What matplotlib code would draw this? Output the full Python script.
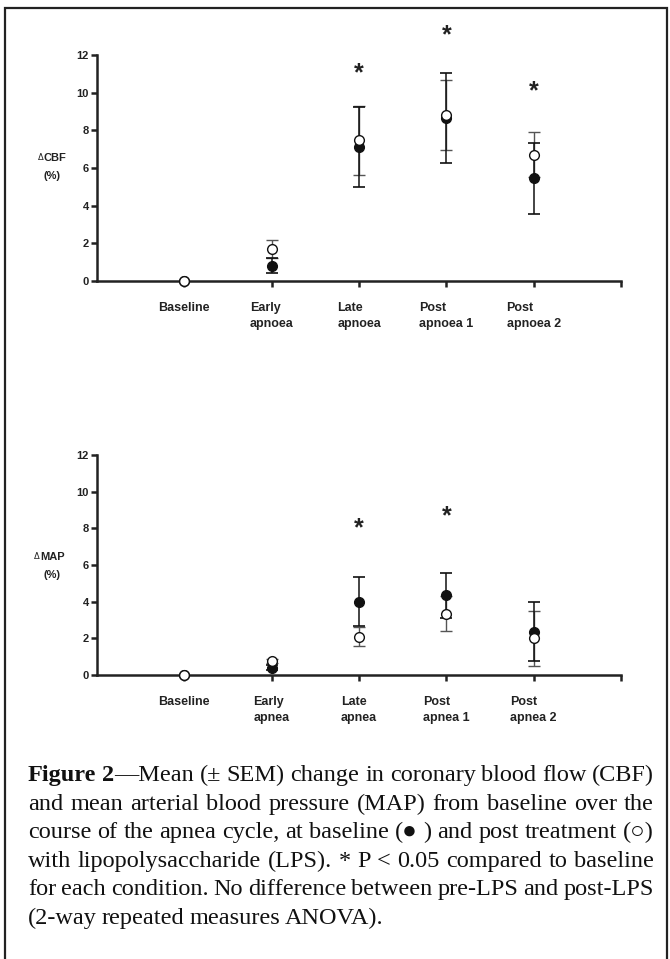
import matplotlib
matplotlib.use('Agg')
import matplotlib.pyplot as plt
from matplotlib.patches import Rectangle

plt.rcParams['font.family'] = ['Liberation Sans', 'DejaVu Sans']

# data
x_pos = [1, 2, 3, 4, 5]
cbf_labels = ['Baseline', 'Early\napnoea', 'Late\napnoea', 'Post\napnoea 1', 'Post\napnoea 2']
map_labels = ['Baseline', 'Early\napnea', 'Late\napnea', 'Post\napnea 1', 'Post\napnea 2']
y_ticks = [0, 2, 4, 6, 8, 10, 12]

# filled = baseline (pre-LPS), open = post LPS
cbf_pre = [0, 0.82, 7.1, 8.65, 5.45]
cbf_pre_err = [0, 0.42, 2.12, 2.4, 1.87]
cbf_lps = [0, 1.7, 7.48, 8.8, 6.7]
cbf_lps_err = [0, 0.5, 1.83, 1.85, 1.2]
cbf_star_x = [3, 4, 5]
cbf_star_y = [11.05, 13.05, 10.05]

map_pre = [0, 0.4, 4.0, 4.35, 2.37]
map_pre_err = [0, 0.15, 1.32, 1.24, 1.63]
map_lps = [0, 0.75, 2.1, 3.35, 2.0]
map_lps_err = [0, 0.1, 0.5, 0.97, 1.5]
map_star_x = [3, 4]
map_star_y = [8.0, 8.65]

caption = [
    'Figure 2—Mean (± SEM) change in coronary blood flow (CBF)',
    'and mean arterial blood pressure (MAP) from baseline over the',
    'course of the apnea cycle, at baseline (● ) and post treatment (○)',
    'with lipopolysaccharide (LPS). * P < 0.05 compared to baseline',
    'for each condition. No difference between pre-LPS and post-LPS',
    '(2-way repeated measures ANOVA).',
]

W, H = 670, 959
fig = plt.figure(figsize=(W / 100, H / 100), dpi=100)


def px_rect(l, t, r, b):
    return [l / W, 1 - b / H, (r - l) / W, (b - t) / H]


def draw_panel(ax, labels, pre, pre_err, lps, lps_err, star_x, star_y):
    ax.set_xlim(0, 6)
    ax.set_ylim(0, 12)
    for s in ['top', 'right']:
        ax.spines[s].set_visible(False)
    for s in ['left', 'bottom']:
        ax.spines[s].set_linewidth(1.8)
        ax.spines[s].set_color('#222222')
    ax.set_yticks(y_ticks)
    ax.set_xticks(x_pos + [6])
    ax.set_xticklabels(labels + [''])
    for lbl in ax.get_xticklabels():
        lbl.set_multialignment('left')
        lbl.set_linespacing(1.5)
    ax.tick_params(axis='y', direction='out', length=4, width=1.8, pad=2,
                   labelsize=8, colors='#222222')
    ax.tick_params(axis='x', direction='out', length=4, width=1.8, pad=11,
                   labelsize=9, colors='#222222')
    for lbl in ax.get_xticklabels() + ax.get_yticklabels():
        lbl.set_fontweight('bold')

    ax.errorbar(x_pos[1:], lps[1:], yerr=lps_err[1:], fmt='none', ecolor='#555555',
                elinewidth=1, capsize=4.5, capthick=1, zorder=2)
    ax.errorbar(x_pos[1:], pre[1:], yerr=pre_err[1:], fmt='none', ecolor='#111111',
                elinewidth=1.1, capsize=4.5, capthick=1.2, zorder=3)
    ax.plot(x_pos, pre, 'o', ms=7, color='#111111', zorder=4, clip_on=False)
    ax.plot(x_pos, lps, 'o', ms=7, mfc='white', mec='#111111', mew=1,
            zorder=5, clip_on=False)
    for sx, sy in zip(star_x, star_y):
        ax.text(sx, sy, '*', ha='center', va='center', fontsize=18,
                fontweight='bold', color='#222222', clip_on=False)


ax1 = fig.add_axes(px_rect(97, 55, 621, 281))
draw_panel(ax1, cbf_labels, cbf_pre, cbf_pre_err, cbf_lps, cbf_lps_err,
           cbf_star_x, cbf_star_y)
ax2 = fig.add_axes(px_rect(97, 455, 621, 675))
draw_panel(ax2, map_labels, map_pre, map_pre_err, map_lps, map_lps_err,
           map_star_x, map_star_y)

# y labels
for name, left, yc in [('CBF', 44, 158), ('MAP', 40, 557)]:
    fig.text(left / W, 1 - yc / H, name, ha='left', va='center', fontsize=8,
             fontweight='bold', color='#222222')
    fig.text((left - 0.5) / W, 1 - (yc - 0.5) / H, 'Δ', ha='right', va='center',
             fontsize=6, color='#222222', family='DejaVu Sans')
    fig.text(52 / W, 1 - (yc + 18) / H, '(%)', ha='center', va='center',
             fontsize=8, fontweight='bold', color='#222222')

# border
fig.add_artist(Rectangle((5 / W, -0.05), 662 / W, 1.05 - 8 / H, transform=fig.transFigure,
                         fill=False, lw=1.6, ec='#222222', clip_on=False))

# justified caption
renderer = fig.canvas.get_renderer()
serif = 'Liberation Serif'


def measure(s, fs, weight='normal'):
    t = fig.text(0, 0, s, fontsize=fs, family=serif, weight=weight)
    w = t.get_window_extent(renderer).width
    t.remove()
    return w


cap_left, cap_right = 28, 654
fs = 1.015 * 10 * 352 / measure(caption[-1], 10)
space_w = measure('a b', fs) - measure('ab', fs)

for i, line in enumerate(caption):
    y = 1 - (781 + 28.6 * i) / H
    words = line.split(' ')
    segs = []
    for j, w in enumerate(words):
        if i == 0 and j == 0:
            segs.append([(w, 'bold')])
        elif i == 0 and j == 1:
            segs.append([('2', 'bold'), (w[1:], 'normal')])
        else:
            segs.append([(w, 'normal')])
    widths = [sum(measure(s, fs, wt) for s, wt in sg) for sg in segs]
    if i < len(caption) - 1:
        gap = (cap_right - cap_left - sum(widths)) / (len(words) - 1)
    else:
        gap = space_w * 0.8
    x = cap_left
    for sg, wd in zip(segs, widths):
        xx = x
        for s, wt in sg:
            fig.text(xx / W, y, s, fontsize=fs, family=serif, weight=wt,
                     ha='left', va='baseline', color='#111111')
            xx += measure(s, fs, wt)
        x += wd + gap

fig.savefig('out.png', dpi=100)
